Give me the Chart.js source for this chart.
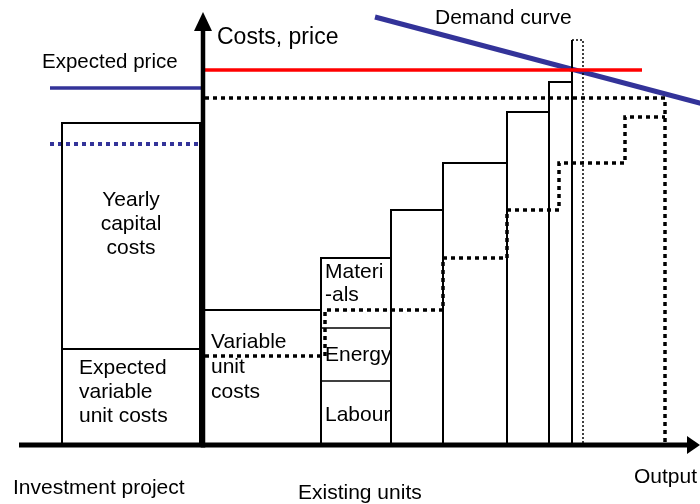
<!DOCTYPE html>
<html>
<head>
<meta charset="utf-8">
<script src="https://cdn.jsdelivr.net/npm/chart.js@4/dist/chart.umd.min.js"></script>
<style>
  html, body { margin: 0; padding: 0; background: #fff; }
</style>
</head>
<body>
<canvas id="myChart" width="700" height="504"></canvas>
<script>
// chart units: output to the right of the cost axis, cost above the output axis

// existing units, cheapest first
const unitEdges = [0, 118, 188, 240, 304, 346, 369];
const unitCosts = [135, 187, 235, 282, 333, 363];
const materialSplits = [64, 117]; // top of labour, top of energy (second unit)

// investment project
const projectSpan = [-141, -3];
const projectCosts = [96, 322]; // expected variable unit costs, total with capital costs
const expectedPrice = 357;
const projectBreakEven = 301;

// market
const marketPrice = 375;
const newPrice = 347;
const newEdges = [2, 122, 240, 304, 356, 422, 462];
const newCosts = [89, 135, 187, 235, 282, 328];
const demandX = [172, 500];
const demandY = [428, 341];
const capacityX = [369, 380];
const capacityTop = 405;

const navy = '#333399';

function line(points, color, width, dash) {
  return {
    data: points,
    showLine: true,
    borderColor: color,
    borderWidth: width,
    borderDash: dash || [],
    pointRadius: 0,
    fill: false,
    tension: 0,
  };
}

function box(x0, x1, h) {
  return [{x: x0, y: 0}, {x: x0, y: h}, {x: x1, y: h}, {x: x1, y: 0}];
}

const datasets = [];

// existing units as bars of varying width
for (let i = 0; i < unitCosts.length; i++) {
  datasets.push(line(box(unitEdges[i], unitEdges[i + 1], unitCosts[i]), '#000', 2));
}
materialSplits.forEach(s => {
  datasets.push(line([{x: unitEdges[1], y: s}, {x: unitEdges[2], y: s}], '#000', 1.5));
});

// investment project bar
datasets.push(line(box(projectSpan[0], projectSpan[1], projectCosts[1]), '#000', 2));
datasets.push(line([{x: projectSpan[0], y: projectCosts[0]}, {x: projectSpan[1], y: projectCosts[0]}], '#000', 2));

// expected price and break-even level of the project
datasets.push(line([{x: -153, y: expectedPrice}, {x: 0, y: expectedPrice}], navy, 3.5));
datasets.push(line([{x: -153, y: projectBreakEven}, {x: projectSpan[1], y: projectBreakEven}], navy, 4, [4, 4]));

// new supply curve with the project
const newSupply = [];
for (let i = 0; i < newCosts.length; i++) {
  newSupply.push({x: newEdges[i], y: newCosts[i]});
  newSupply.push({x: newEdges[i + 1], y: newCosts[i]});
}
datasets.push(line(newSupply, '#000', 3.5, [4, 4]));
datasets.push(line([{x: newEdges[0], y: newPrice}, {x: newEdges[6], y: newPrice}, {x: newEdges[6], y: 0}], '#000', 3.5, [4, 4]));

// current market price
datasets.push(line([{x: 2, y: marketPrice}, {x: 439, y: marketPrice}], '#ff0000', 3.5));

// capacity limit
datasets.push(line([{x: capacityX[0], y: 0}, {x: capacityX[0], y: capacityTop}], '#000', 2));
datasets.push(line([{x: capacityX[0], y: capacityTop}, {x: capacityX[1], y: capacityTop}, {x: capacityX[1], y: 0}], '#000', 1.5, [2, 2]));

// demand curve
datasets.push(line([{x: demandX[0], y: demandY[0]}, {x: demandX[1], y: demandY[1]}], navy, 5));

const sketch = {
  id: 'sketch',
  afterDatasetsDraw(chart) {
    const {ctx, scales: {x, y}} = chart;
    const px = v => x.getPixelForValue(v);
    const py = v => y.getPixelForValue(v);
    ctx.save();
    ctx.fillStyle = '#000';
    ctx.strokeStyle = '#000';
    ctx.lineCap = 'butt';

    // output axis
    ctx.lineWidth = 5;
    ctx.beginPath();
    ctx.moveTo(px(-184), py(0));
    ctx.lineTo(px(487), py(0));
    ctx.stroke();
    ctx.beginPath();
    ctx.moveTo(px(497), py(0));
    ctx.lineTo(px(484), py(0) - 9);
    ctx.lineTo(px(484), py(0) + 9);
    ctx.closePath();
    ctx.fill();

    // cost axis
    ctx.lineWidth = 4.5;
    ctx.beginPath();
    ctx.moveTo(px(0), py(0) + 2.5);
    ctx.lineTo(px(0), py(417));
    ctx.stroke();
    ctx.beginPath();
    ctx.moveTo(px(0), py(433));
    ctx.lineTo(px(0) - 9, py(414));
    ctx.lineTo(px(0) + 9, py(414));
    ctx.closePath();
    ctx.fill();

    ctx.textBaseline = 'middle';
    const text = (s, xv, yv, align, size) => {
      ctx.font = (size || 21) + 'px "Liberation Sans", Arial, sans-serif';
      ctx.textAlign = align || 'left';
      ctx.fillText(s, px(xv), py(yv));
    };
    const lines = (arr, xv, yv, align, step) => {
      arr.forEach((s, i) => text(s, xv, yv - i * step, align));
    };

    text('Costs, price', 14, 407, 'left', 23);
    text('Expected price', -161, 383, 'left', 20.5);
    text('Demand curve', 232, 427, 'left', 21);
    lines(['Yearly', 'capital', 'costs'], -72, 245, 'center', 24);
    lines(['Expected', 'variable', 'unit costs'], -124, 77, 'left', 24);
    lines(['Variable', 'unit', 'costs'], 8, 103, 'left', 25);
    lines(['Materi', '-als'], 122, 173, 'left', 23);
    text('Energy', 122, 90);
    text('Labour', 122, 30);
    text('Investment project', -190, -43);
    text('Existing units', 95, -48);
    text('Output', 494, -32, 'right');
    ctx.restore();
  }
};

new Chart(document.getElementById('myChart'), {
  type: 'scatter',
  data: {datasets},
  options: {
    responsive: false,
    animation: false,
    layout: {padding: 0},
    plugins: {legend: {display: false}, tooltip: {enabled: false}},
    scales: {
      x: {type: 'linear', display: false, min: -203, max: 497},
      y: {type: 'linear', display: false, min: -59, max: 445},
    },
  },
  plugins: [sketch],
});
</script>
</body>
</html>
